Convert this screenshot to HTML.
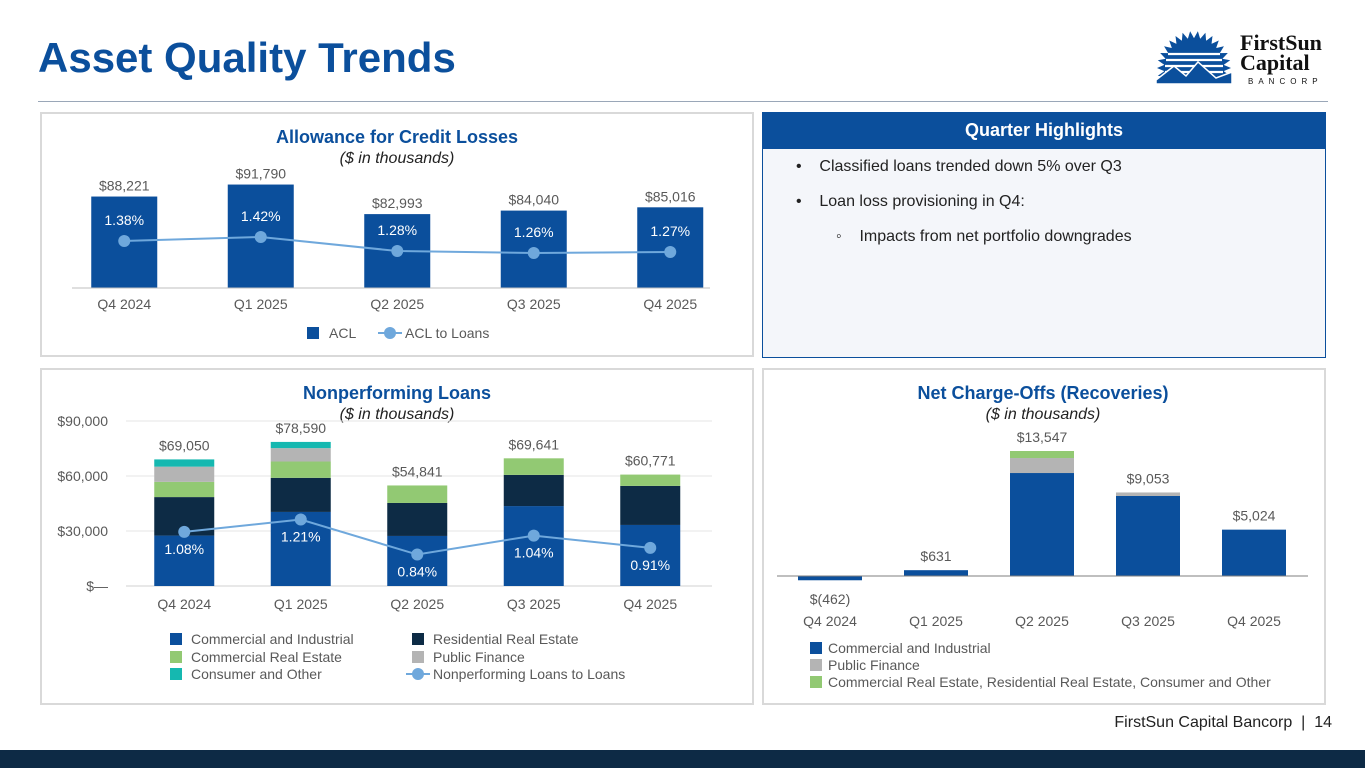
<!DOCTYPE html>
<html><head><meta charset="utf-8">
<style>
body{margin:0;width:1365px;height:768px;position:relative;background:#fff;font-family:"Liberation Sans",sans-serif;overflow:hidden}
.abs{position:absolute}
.panel{position:absolute;border:2px solid #d9d9d9;box-sizing:border-box}
</style></head><body>
<div class="abs" style="left:38px;top:34px;font-size:42px;font-weight:bold;color:#0b4f9c">Asset Quality Trends</div>
<div class="abs" style="left:38px;top:101px;width:1290px;height:1px;background:#9aa7b8"></div>
<svg class="abs" style="left:1150px;top:26px" width="190" height="68" viewBox="0 0 190 68">
 <defs><clipPath id="half"><rect x="-50" y="-50" width="100" height="66"/></clipPath></defs>
 <g transform="translate(44,42)">
  <g id="rays" fill="#0b4f9c"></g>
  <g clip-path="url(#half)">
  <circle r="30" fill="#0b4f9c"/>
  <g stroke="#fff" stroke-width="2.2"><line x1="-26" y1="-14" x2="26" y2="-14"/><line x1="-28" y1="-8" x2="28" y2="-8"/><line x1="-29" y1="-2" x2="29" y2="-2"/><line x1="-29" y1="4" x2="29" y2="4"/></g>
  </g>
  <polygon points="-38,16 -38,12 -20,-2 -8,8 4,-6 22,10 38,4 38,16" fill="#0b4f9c" stroke="#fff" stroke-width="1.5"/>
 </g>
 <text x="90" y="24" font-family="Liberation Serif,serif" font-weight="bold" font-size="22" fill="#111">FirstSun</text>
 <text x="90" y="44" font-family="Liberation Serif,serif" font-weight="bold" font-size="22" fill="#111">Capital</text>
 <text x="98" y="58" font-size="8" letter-spacing="5" fill="#111">BANCORP</text>
</svg>

<div class="panel" style="left:40px;top:112px;width:714px;height:245px"></div>
<div class="panel" style="left:762px;top:112px;width:564px;height:246px;border:1px solid #0b4f9c;background:#f4f6fa"></div>
<div class="abs" style="left:762px;top:112px;width:564px;height:37px;background:#0b4f9c;color:#fff;font-weight:bold;font-size:18px;text-align:center;line-height:37px">Quarter Highlights</div>
<div class="abs" style="left:796px;top:158px;font-size:16px;color:#222">•&nbsp;&nbsp;&nbsp;&nbsp;Classified loans trended down 5% over Q3</div>
<div class="abs" style="left:796px;top:193px;font-size:16px;color:#222">•&nbsp;&nbsp;&nbsp;&nbsp;Loan loss provisioning in Q4:</div>
<div class="abs" style="left:836px;top:228px;font-size:16px;color:#222">◦&nbsp;&nbsp;&nbsp;&nbsp;Impacts from net portfolio downgrades</div>
<div class="panel" style="left:40px;top:368px;width:714px;height:337px"></div>
<div class="panel" style="left:762px;top:368px;width:564px;height:337px"></div>
<div class="abs" style="right:33px;top:714px;font-size:16px;color:#222">FirstSun Capital Bancorp&nbsp;&nbsp;|&nbsp;&nbsp;14</div>
<div class="abs" style="left:0;top:750px;width:1365px;height:18px;background:#0d2a45"></div>

<svg id="c" class="abs" style="left:0;top:0" width="1365" height="768"></svg>
<script>
const quarters=["Q4 2024","Q1 2025","Q2 2025","Q3 2025","Q4 2025"];
const aclValues=[88221,91790,82993,84040,85016];
const aclLabels=["$88,221","$91,790","$82,993","$84,040","$85,016"];
const aclPct=[1.38,1.42,1.28,1.26,1.27];
const nplCI=[27500,40400,27300,43600,33300];
const nplRRE=[21000,18600,18000,17000,21300];
const nplCRE=[8300,8900,9541,9041,6171];
const nplPF=[8300,7300,0,0,0];
const nplCons=[3950,3390,0,0,0];
const nplTotals=["$69,050","$78,590","$54,841","$69,641","$60,771"];
const nplPct=[1.08,1.21,0.84,1.04,0.91];
const nplTicks=[0,30000,60000,90000];
const nplTickLabels=["$—","$30,000","$60,000","$90,000"];
const ncoCI=[-462,631,11160,8670,5024];
const ncoPF=[0,0,1625,383,0];
const ncoOther=[0,0,762,0,0];
const ncoLabels=["$(462)","$631","$13,547","$9,053","$5,024"];

const BLUE="#0b4f9c",NAVY="#0d2b45",GREEN="#92c973",GREY="#b4b4b4",TEAL="#15b8b0",LINE="#6fa8dc";
const svg=document.getElementById('c');
function el(t,a,txt){const e=document.createElementNS("http://www.w3.org/2000/svg",t);for(const k in a)e.setAttribute(k,a[k]);if(txt!==undefined)e.textContent=txt;svg.appendChild(e);return e;}
function tx(x,y,s,opt){opt=opt||{};return el("text",{x:x,y:y,"font-size":opt.size||14,fill:opt.fill||"#595959","text-anchor":opt.anchor||"middle","font-weight":opt.bold?"bold":"normal","font-style":opt.italic?"italic":"normal","font-family":"Liberation Sans,sans-serif"},s);}

// ---------- ACL chart ----------
(function(){
 const x0=56,band=136.5,bw=66,base=288,vmin=61000,k=0.00336;
 const cx=i=>x0+band*(i+0.5);
 const y=v=>base-(v-vmin)*k;
 const yp=p=>379-p*100;
 let t=tx(397,143,"Allowance for Credit Losses",{size:18,bold:true,fill:BLUE});
 t=tx(397,163,"($ in thousands)",{size:16,italic:true,fill:"#222"});
 aclValues.forEach((v,i)=>{
  const r=el("rect",{x:cx(i)-bw/2,y:y(v),width:bw,height:base-y(v),fill:BLUE});
  
  const l=tx(cx(i),y(v)-6,aclLabels[i]);
  const q=tx(cx(i),309,quarters[i]);
 });
 const ax=el("line",{x1:72,y1:base,x2:710,y2:base,stroke:"#bfbfbf"});
 const pl=el("polyline",{points:aclPct.map((p,i)=>cx(i)+","+yp(p)).join(" "),fill:"none",stroke:LINE,"stroke-width":2});
 
 aclPct.forEach((p,i)=>{
  const c=el("circle",{cx:cx(i),cy:yp(p),r:6,fill:LINE});
  const l=tx(cx(i),yp(p)-16,p.toFixed(2)+"%",{fill:"#fff"});
 });
 let r=el("rect",{x:307,y:327,width:12,height:12,fill:BLUE});
 t=tx(329,338,"ACL",{anchor:"start"});
 let ln=el("line",{x1:378,y1:333,x2:402,y2:333,stroke:LINE,"stroke-width":2});
 let cc=el("circle",{cx:390,cy:333,r:6,fill:LINE});
 t=tx(405,338,"ACL to Loans",{anchor:"start"});
})();

// ---------- NPL chart ----------
(function(){
 const x0=126,band=116.5,bw=60,base=586,k=165/90000;
 const cx=i=>x0+band*(i+0.5);
 const y=v=>base-v*k;
 const yp=p=>634-p*94.6;
 let t=tx(397,399,"Nonperforming Loans",{size:18,bold:true,fill:BLUE});
 t=tx(397,419,"($ in thousands)",{size:16,italic:true,fill:"#222"});
 nplTicks.forEach((v,i)=>{
  const g=el("line",{x1:126,y1:y(v),x2:712,y2:y(v),stroke:i==0?"#d0d0d0":"#e6e6e6"});
  const l=tx(108,y(v)+5,nplTickLabels[i],{anchor:"end"});
 });
 const series=[[nplCI,BLUE],[nplRRE,NAVY],[nplCRE,GREEN],[nplPF,GREY],[nplCons,TEAL]];
 quarters.forEach((q,i)=>{
  let acc=0;
  series.forEach(([arr,col],s)=>{
   const v=arr[i];if(v<=0)return;
   const r=el("rect",{x:cx(i)-bw/2,y:y(acc+v),width:bw,height:v*k,fill:col});
   
   acc+=v;
  });
  const l=tx(cx(i),y(acc)-9,nplTotals[i]);
  const xl=tx(cx(i),609,q);
 });
 const pl=el("polyline",{points:nplPct.map((p,i)=>cx(i)+","+yp(p)).join(" "),fill:"none",stroke:LINE,"stroke-width":2});
 
 nplPct.forEach((p,i)=>{
  const c=el("circle",{cx:cx(i),cy:yp(p),r:6,fill:LINE});
  const l=tx(cx(i),yp(p)+22,p.toFixed(2)+"%",{fill:"#fff"});
 });
 const leg=[[170,633,BLUE,"Commercial and Industrial"],[412,633,NAVY,"Residential Real Estate"],[170,651,GREEN,"Commercial Real Estate"],[412,651,GREY,"Public Finance"],[170,668,TEAL,"Consumer and Other"]];
 leg.forEach(([lx,ly,c,s])=>{
  const r=el("rect",{x:lx,y:ly,width:12,height:12,fill:c});
  const l=tx(lx+21,ly+11,s,{anchor:"start"});
 });
 let ln=el("line",{x1:406,y1:674,x2:430,y2:674,stroke:LINE,"stroke-width":2});
 let cc=el("circle",{cx:418,cy:674,r:6,fill:LINE});
 t=tx(433,679,"Nonperforming Loans to Loans",{anchor:"start"});
})();

// ---------- NCO chart ----------
(function(){
 const x0=777,band=106,bw=64,base=576,k=125/13547;
 const cx=i=>x0+band*(i+0.5);
 const y=v=>base-v*k;
 let t=tx(1043,399,"Net Charge-Offs (Recoveries)",{size:18,bold:true,fill:BLUE});
 t=tx(1043,419,"($ in thousands)",{size:16,italic:true,fill:"#222"});
 quarters.forEach((q,i)=>{
  const ci=ncoCI[i];
  let r;
  if(ci<0){r=el("rect",{x:cx(i)-bw/2,y:base,width:bw,height:-ci*k,fill:BLUE});}
  else{r=el("rect",{x:cx(i)-bw/2,y:y(ci),width:bw,height:ci*k,fill:BLUE});}
  
  let acc=Math.max(ci,0);
  [[ncoPF,GREY],[ncoOther,GREEN]].forEach(([arr,c])=>{
   const v=arr[i];if(v<=0)return;
   const s=el("rect",{x:cx(i)-bw/2,y:y(acc+v),width:bw,height:v*k,fill:c});
   
   acc+=v;
  });
  const ly=ci<0?base+28:y(acc)-9;
  const l=tx(cx(i),ly,ncoLabels[i]);
  const xl=tx(cx(i),626,q);
 });
 const ax=el("line",{x1:777,y1:base,x2:1308,y2:base,stroke:"#7f7f7f"});
 const leg=[[810,642,BLUE,"Commercial and Industrial"],[810,659,GREY,"Public Finance"],[810,676,GREEN,"Commercial Real Estate, Residential Real Estate, Consumer and Other"]];
 leg.forEach(([lx,ly,c,s])=>{
  const r=el("rect",{x:lx,y:ly,width:12,height:12,fill:c});
  const l=tx(lx+18,ly+11,s,{anchor:"start"});
 });
})();

// logo rays
(function(){
 const g=document.getElementById('rays');
 for(let a=-12;a<=192;a+=12){
  const r=(a+180)*Math.PI/180;
  const p=document.createElementNS("http://www.w3.org/2000/svg","polygon");
  const x1=Math.cos(r-0.12)*29,y1=Math.sin(r-0.12)*29,x2=Math.cos(r+0.12)*29,y2=Math.sin(r+0.12)*29,x3=Math.cos(r)*37,y3=Math.sin(r)*37;
  p.setAttribute('points',`${x1},${y1} ${x3},${y3} ${x2},${y2}`);
  g.appendChild(p);
 }
})();
</script>
</body></html>
